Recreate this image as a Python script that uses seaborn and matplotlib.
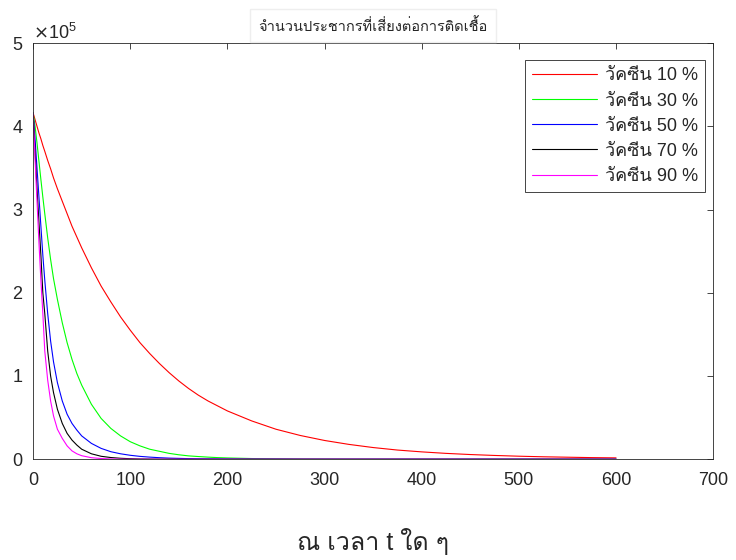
import pandas as pd
import seaborn as sns
import matplotlib.pyplot as plt
from matplotlib import font_manager
from matplotlib.ft2font import FT2Font

# time points (days) and susceptible population in units of 1e5
t_days = [0, 2, 4, 6, 8, 10, 12, 15, 18, 21, 25, 30, 35, 40, 45, 50, 60, 70, 80, 90,
          100, 110, 120, 130, 140, 150, 160, 170, 180, 190, 200, 225, 250, 275, 300, 325,
          350, 375, 400, 425, 450, 475, 500, 525, 550, 575, 600]

vac_10 = [4.16, 4.08, 4.00, 3.92, 3.85, 3.77, 3.70, 3.59, 3.49, 3.38,
          3.25, 3.10, 2.95, 2.80, 2.67, 2.54, 2.30, 2.08, 1.89, 1.71,
          1.55, 1.40, 1.27, 1.15, 1.04, 0.94, 0.85, 0.77, 0.70, 0.64,
          0.58, 0.46, 0.36, 0.285, 0.225, 0.178, 0.14, 0.11, 0.088, 0.07,
          0.056, 0.045, 0.036, 0.029, 0.024, 0.019, 0.016]
vac_30 = [4.16, 4.00, 3.80, 3.58, 3.36, 3.15, 2.95, 2.66, 2.40, 2.17,
          1.92, 1.64, 1.40, 1.20, 1.03, 0.89, 0.66, 0.49, 0.37, 0.28,
          0.21, 0.16, 0.12, 0.095, 0.07, 0.053, 0.04, 0.032, 0.025, 0.019,
          0.015, 0.008, 0.004, 0.002, 0.001, 0.0, 0.0, 0.0, 0.0, 0.0,
          0.0, 0.0, 0.0, 0.0, 0.0, 0.0, 0.0]
vac_50 = [4.16, 3.85, 3.50, 3.15, 2.80, 2.45, 2.15, 1.75, 1.42, 1.17,
          0.92, 0.70, 0.54, 0.43, 0.35, 0.28, 0.19, 0.13, 0.09, 0.065,
          0.047, 0.034, 0.025, 0.018, 0.013, 0.01, 0.007, 0.005, 0.004, 0.003,
          0.002, 0.001, 0.001, 0.0, 0.0, 0.0, 0.0, 0.0, 0.0, 0.0,
          0.0, 0.0, 0.0, 0.0, 0.0, 0.0, 0.0]
vac_70 = [4.16, 3.70, 3.25, 2.85, 2.45, 2.00, 1.75, 1.30, 1.00, 0.80,
          0.60, 0.43, 0.31, 0.23, 0.17, 0.12, 0.065, 0.035, 0.02, 0.011,
          0.006, 0.003, 0.002, 0.001, 0.001, 0.0, 0.0, 0.0, 0.0, 0.0,
          0.0, 0.0, 0.0, 0.0, 0.0, 0.0, 0.0, 0.0, 0.0, 0.0,
          0.0, 0.0, 0.0, 0.0, 0.0, 0.0, 0.0]
vac_90 = [4.16, 3.60, 3.10, 2.60, 2.15, 1.75, 1.30, 0.95, 0.70, 0.52,
          0.36, 0.25, 0.16, 0.10, 0.065, 0.042, 0.018, 0.008, 0.003, 0.001,
          0.0, 0.0, 0.0, 0.0, 0.0, 0.0, 0.0, 0.0, 0.0, 0.0,
          0.0, 0.0, 0.0, 0.0, 0.0, 0.0, 0.0, 0.0, 0.0, 0.0,
          0.0, 0.0, 0.0, 0.0, 0.0, 0.0, 0.0]

labels = ["วัคซีน 10 %", "วัคซีน 30 %", "วัคซีน 50 %", "วัคซีน 70 %", "วัคซีน 90 %"]
colors = ["#ff0000", "#00ff00", "#0000ff", "#000000", "#ff00ff"]
title_text = "จำนวนประชากรที่เสี่ยงต่อการติดเชื้อ"
xlabel_text = "ณ เวลา t ใด ๆ"


def find_thai_font():
    # pick any installed family that has Thai glyphs
    for f in font_manager.fontManager.ttflist:
        try:
            if ord("ว") in FT2Font(f.fname).get_charmap():
                return f.name
        except Exception:
            pass
    return "DejaVu Sans"


sns.set_style("white")
thai = find_thai_font()
plt.rcParams["font.family"] = ["Liberation Sans", thai, "DejaVu Sans"]

# long-form table for seaborn
rows = []
for lab, vals in zip(labels, [vac_10, vac_30, vac_50, vac_70, vac_90]):
    for t, v in zip(t_days, vals):
        rows.append({"t": t, "S": v * 1e5, "group": lab})
df = pd.DataFrame(rows)

fig = plt.figure(figsize=(7.36, 5.6), dpi=100)
ax = fig.add_axes([0.045, 0.180, 0.924, 0.743])

sns.lineplot(data=df, x="t", y="S", hue="group", hue_order=labels,
             palette=colors, linewidth=0.8, ax=ax, legend=True)

ax.set_xlim(0, 700)
ax.set_ylim(0, 5e5)
ax.set_xticks(range(0, 701, 100))
ax.set_yticks([0, 1e5, 2e5, 3e5, 4e5, 5e5])
ax.ticklabel_format(axis="y", style="sci", scilimits=(5, 5), useMathText=True)
ax.yaxis.get_offset_text().set_fontsize(13)
ax.tick_params(direction="in", length=4, width=0.6, top=True, right=True,
               labelsize=13, color="#262626")
ax.tick_params(axis="x", pad=9)
ax.tick_params(axis="y", pad=7)
for s in ax.spines.values():
    s.set_color("#262626")
    s.set_linewidth(0.6)

ax.set_xlabel(xlabel_text, fontsize=18, labelpad=28)
ax.set_ylabel("")
ax.set_title(title_text, fontsize=10.5, pad=9,
             bbox=dict(facecolor="white", edgecolor="#eeeeee", pad=6))

leg = ax.legend(loc="upper right", bbox_to_anchor=(0.988, 0.959), fontsize=13,
                frameon=True, fancybox=False, framealpha=1, edgecolor="#262626",
                handlelength=3.6, handletextpad=0.4, borderpad=0.4,
                labelspacing=0.45, borderaxespad=0)
leg.get_frame().set_linewidth(0.6)

plt.savefig("out.png", dpi=100)
